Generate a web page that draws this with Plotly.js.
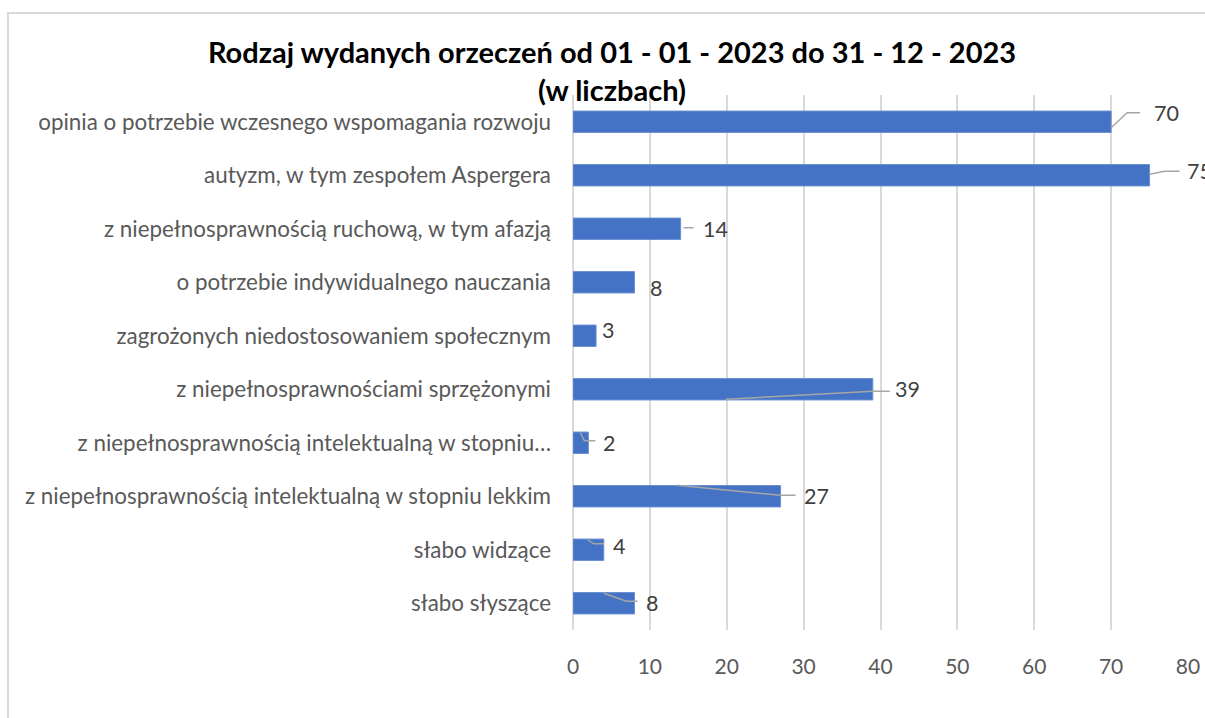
<!DOCTYPE html>
<html><head><meta charset="utf-8">
<script src="https://cdn.plot.ly/plotly-3.0.1.min.js"></script>
<style>
body{margin:0;background:#fff;overflow:hidden}
#chart{width:1205px;height:718px}
#frame{position:absolute;left:7px;top:12px;width:1210px;height:740px;border:2px solid #d9d9d9;pointer-events:none;box-sizing:border-box}
</style>
</head><body><div id="chart"></div><div id="frame"></div>
<script>
const categories = [
  "opinia o potrzebie wczesnego wspomagania rozwoju",
  "autyzm, w tym zespołem Aspergera",
  "z niepełnosprawnością ruchową, w tym afazją",
  "o potrzebie indywidualnego nauczania",
  "zagrożonych niedostosowaniem społecznym",
  "z niepełnosprawnościami sprzężonymi",
  "z niepełnosprawnością intelektualną w stopniu…",
  "z niepełnosprawnością intelektualną w stopniu lekkim",
  "słabo widzące",
  "słabo słyszące"
];
const values = [70, 75, 14, 8, 3, 39, 2, 27, 4, 8];
const xTicks = [0, 10, 20, 30, 40, 50, 60, 70, 80];
const titleText = "Rodzaj wydanych orzeczeń od 01 - 01 - 2023 do 31 - 12 - 2023<br>(w liczbach)";

// label placement (pixel offsets from the bar end, screen y downward)
const labelDx = [55, 35, 35, 21, 12, 35, 21, 36, 15, 17];
const labelDy = [-9, -4, 0, 6, -6, 0, 0, 0, -4, 0];
const labelAnchor = ["center","left","center","center","center","center","center","center","center","center"];
// leader lines: [startDx, startDy, startFromMid, elbowDx, elbowDy, endDx, endDy] or null
const leaders = [
  [0, 6, false, 16, -9, 29, -9],
  [0, -1, false, 15, -4, 30, -4],
  [3, -1, false, 8, -1, 13, -1],
  null,
  null,
  [3, 10, true, 0, 2, 17, 2],
  [-8, -10, false, -4, -2, 7, -2],
  [0, -11, true, 0, -1, 15, -1],
  [-16, -10, false, -10, -6, 0, -6],
  [0, -10, true, -8, -2, 3, -2]
];

const M = {l: 573, r: 17, t: 95, b: 88};
const W = 1205, H = 718;
const xMax = 80;
const pxPerUnit = (W - M.l - M.r) / xMax;

const font = "Lato, 'Open Sans', sans-serif";

const annotations = values.map((v, i) => ({
  x: v, y: categories[i], xref: "x", yref: "y",
  text: String(v), showarrow: false,
  xanchor: labelAnchor[i], yanchor: "middle",
  xshift: labelDx[i], yshift: -labelDy[i],
  font: {family: font, size: 21.5, color: "#404040"}
}));

const shapes = [];
values.forEach((v, i) => {
  const L = leaders[i];
  if (!L) return;
  const sx = L[2] ? -v * pxPerUnit / 2 + L[0] : L[0];
  const pts = [[sx, L[1]], [L[3], L[4]], [L[5], L[6]]];
  const path = pts.map((p, k) => (k ? "L" : "M") + p[0].toFixed(1) + "," + (-p[1]).toFixed(1)).join(" ");
  shapes.push({
    type: "path", xref: "x", yref: "y",
    xsizemode: "pixel", ysizemode: "pixel",
    xanchor: v, yanchor: categories[i],
    path: path,
    line: {color: "#a6a6a6", width: 1.5}
  });
});

const trace = {
  type: "bar", orientation: "h",
  x: values, y: categories,
  width: 0.4,
  marker: {color: "#4472c4", line: {color: "#6a8fd3", width: 1}},
  hoverinfo: "x+y"
};

const layout = {
  width: W, height: H,
  margin: M,
  paper_bgcolor: "#fff", plot_bgcolor: "#fff",
  showlegend: false,
  title: {
    text: "<b>" + titleText.replace("<br>", "</b><br><b>") + "</b>",
    font: {family: font, size: 29, color: "#000"},
    x: 612 / W, xanchor: "center", xref: "container",
    y: 1 - 63 / H, yanchor: "top", yref: "container"
  },
  xaxis: {
    range: [0, xMax], tickvals: xTicks, ticktext: xTicks.map(String),
    showgrid: true, gridcolor: "#d9d9d9", gridwidth: 2,
    zeroline: true, zerolinecolor: "#d9d9d9", zerolinewidth: 2,
    showline: false, ticks: "",
    ticklabelstandoff: 22,
    tickfont: {family: font, size: 21, color: "#595959"},
    fixedrange: true
  },
  yaxis: {
    type: "category", categoryorder: "array", categoryarray: categories,
    autorange: "reversed",
    showgrid: false, zeroline: false, showline: false, ticks: "",
    ticklabelstandoff: 21,
    tickfont: {family: font, size: 22.4, color: "#595959"},
    fixedrange: true
  },
  annotations: annotations,
  shapes: shapes
};

Plotly.newPlot("chart", [trace], layout, {displayModeBar: false, staticPlot: true});
</script>
</body></html>
